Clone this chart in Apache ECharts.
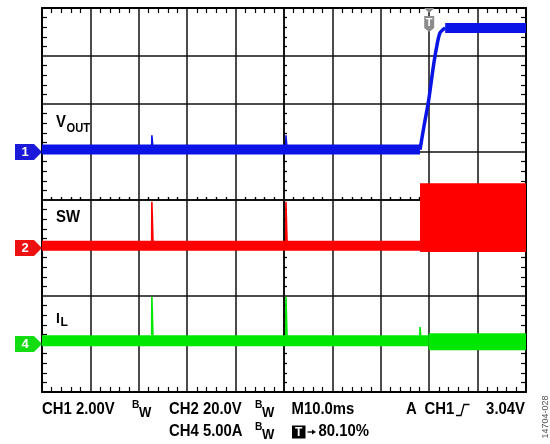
<!DOCTYPE html>
<html>
<head>
<meta charset="utf-8">
<script src="https://cdn.jsdelivr.net/npm/echarts@6/dist/echarts.min.js"></script>
<style>
html, body { margin: 0; padding: 0; background: #fff; }
#scope { width: 550px; height: 444px; }
</style>
</head>
<body>
<div id="scope"></div>
<script>
// time in ms (10 ms/div), values in channel units
const voutLow = [[0, 0.1], [78.1, 0.1]];
const voutRamp = [[78.1, 0.1], [78.9, 1.05], [79.9, 2.17], [80.85, 3.55], [81.55, 4.39], [82.2, 4.95], [83.3, 5.17]];
const voutHigh = [[83.3, 5.17], [100, 5.17]];
const voutSpikes = [[22.7, 0.7], [50.4, 0.7]];

const swLow = [[0, 0.9], [78.1, 0.9]];
const swSpikes = [[22.7, 19.3], [50.4, 19.3]];
const swBurst = [78.1, 100, -1.7, 27]; // start, end, low, high

const ilLow = [[0, 0.33], [79.9, 0.33]];
const ilHigh = [[79.9, 0.24], [100, 0.24]];
const ilSpikes = [[22.7, 4.93], [50.4, 4.93], [78.1, 1.77]];

const triggerT = 80;

const FONT = '"Liberation Sans", Arial, sans-serif';
const ch1 = {color: '#0a14e6', tag: '#1a1ad8', perDiv: 2, zeroDiv: 1, name: '1'};
const ch2 = {color: '#ff0000', tag: '#ee1111', perDiv: 20, zeroDiv: -1, name: '2'};
const ch4 = {color: '#00e800', tag: '#11dd11', perDiv: 5, zeroDiv: -3, name: '4'};

function toDiv(ch, pts) {
    return pts.map(p => [p[0], ch.zeroDiv + p[1] / ch.perDiv]);
}

function trace(ch, pts, width, smooth) {
    return {
        type: 'line',
        data: toDiv(ch, pts),
        symbol: 'none',
        smooth: smooth || false,
        silent: true,
        lineStyle: {color: ch.color, width: width},
        animation: false
    };
}

function spikes(ch, list, base) {
    return list.map(s => trace(ch, [[s[0] - 0.05, base], [s[0], s[1]], [s[0] + 0.25, base]], 1.6));
}

function frameAxis(dim, pos, split) {
    const isX = dim === 'x';
    return {
        type: 'value',
        gridIndex: 0,
        position: pos,
        min: isX ? 0 : -4,
        max: isX ? 100 : 4,
        interval: isX ? 10 : 1,
        axisLine: {show: true, onZero: false, lineStyle: {color: '#000', width: 2}},
        axisTick: {show: false, inside: true},
        minorTick: {show: true, splitNumber: 5, length: 5, lineStyle: {color: '#000', width: 1.2}},
        axisLabel: {show: false},
        splitLine: {show: split, lineStyle: {color: '#111', width: 1.5}}
    };
}

function centerAxis(dim, inside) {
    const isX = dim === 'x';
    return {
        type: 'value',
        gridIndex: 1,
        min: isX ? -5 : -4,
        max: isX ? 5 : 4,
        interval: 1,
        axisLine: {show: true, onZero: true, lineStyle: {color: '#111', width: 1.5}},
        axisTick: {show: false, inside: inside},
        minorTick: {show: true, splitNumber: 5, length: 3, lineStyle: {color: '#000', width: 1.2}},
        axisLabel: {show: false},
        splitLine: {show: false}
    };
}

const chart = echarts.init(document.getElementById('scope'), null, {renderer: 'canvas'});

const swSeries = trace(ch2, swLow, 10);
swSeries.markArea = {
    silent: true,
    itemStyle: {color: ch2.color, opacity: 1},
    data: [[
        {coord: [swBurst[0], ch2.zeroDiv + swBurst[2] / ch2.perDiv]},
        {coord: [swBurst[1], ch2.zeroDiv + swBurst[3] / ch2.perDiv]}
    ]]
};

const series = [
    trace(ch4, ilLow, 11),
    trace(ch4, ilHigh, 17),
    ...spikes(ch4, ilSpikes, 0.33),
    swSeries,
    ...spikes(ch2, swSpikes, 0.9),
    trace(ch1, voutLow, 10),
    trace(ch1, voutRamp, 3.5, 0.25),
    trace(ch1, voutHigh, 10),
    ...spikes(ch1, voutSpikes, 0.1)
];

chart.setOption({
    animation: false,
    backgroundColor: '#fff',
    grid: [
        {left: 42, top: 8, width: 484, height: 384},
        {left: 42, top: 8, width: 484, height: 384}
    ],
    xAxis: [
        frameAxis('x', 'bottom', true),
        frameAxis('x', 'top', false),
        centerAxis('x', true),
        centerAxis('x', false)
    ],
    yAxis: [
        frameAxis('y', 'left', true),
        frameAxis('y', 'right', false),
        centerAxis('y', true),
        centerAxis('y', false)
    ],
    series: series
});

// overlays: channel tags, trigger marker, captions
const px = (t, d) => chart.convertToPixel({gridIndex: 0}, [t, d]);
const g = [];

function text(str, x, y, size, opts) {
    opts = opts || {};
    g.push({
        type: 'text',
        z: 100,
        rotation: opts.rotation || 0,
        scaleX: opts.sx || 1,
        x: x, y: y,
        style: {
            text: str,
            x: 0, y: 0,
            fill: opts.fill || '#000',
            font: (opts.weight || 'bold') + ' ' + size + 'px ' + FONT,
            textAlign: opts.align || 'left',
            textVerticalAlign: 'middle',
            verticalAlign: 'middle',
            align: opts.align || 'left'
        }
    });
}

[ch1, ch2, ch4].forEach(ch => {
    const p = px(0, ch.zeroDiv);
    const x = p[0], y = p[1];
    g.push({
        type: 'polygon', z: 100,
        shape: {points: [[x - 27, y - 8], [x - 8, y - 8], [x, y], [x - 8, y + 8], [x - 27, y + 8]]},
        style: {fill: ch.tag}
    });
    text(ch.name, x - 17, y + 0.5, 13, {fill: '#fff', align: 'center'});
});

const tp = px(triggerT, 4);
g.push({
    type: 'polygon', z: 100,
    shape: {points: [[tp[0] - 5, tp[1]], [tp[0] + 5, tp[1]], [tp[0], tp[1] + 5]]},
    style: {fill: '#8c8c8c'}
});
g.push({
    type: 'polygon', z: 100,
    shape: {points: [[tp[0] - 5, tp[1] + 8], [tp[0] + 5, tp[1] + 8], [tp[0] + 5, tp[1] + 20], [tp[0], tp[1] + 24], [tp[0] - 5, tp[1] + 20]]},
    style: {fill: '#8c8c8c'}
});
text('T', tp[0], tp[1] + 15, 11, {fill: '#fff', align: 'center'});

// trace names
const SX = 0.93;
text('V', 56, 123, 16, {sx: SX});
text('OUT', 66.5, 128.5, 12, {sx: SX});
text('SW', 56, 217.5, 16, {sx: SX});
text('I', 56, 318.5, 15, {sx: SX});
text('L', 60.5, 322, 13, {sx: SX});

// bottom readout
const L1 = 410, L2 = 432;
text('CH1 2.00V', 42, L1, 16, {sx: SX});
text('B', 132, L1 - 5, 11, {sx: SX});
text('W', 139, L1 + 3, 14, {sx: SX});
text('CH2 20.0V', 169, L1, 16, {sx: SX});
text('B', 255, L1 - 5, 11, {sx: SX});
text('W', 262, L1 + 3, 14, {sx: SX});
text('M10.0ms', 291.5, L1, 16, {sx: SX});
text('A', 406, L1, 16, {sx: SX});
text('CH1', 424.5, L1, 16, {sx: SX});
g.push({
    type: 'polyline', z: 100,
    shape: {points: [[456, L1 + 5.5], [461, L1 + 5.5], [464, L1 - 5.5], [469.5, L1 - 5.5]]},
    style: {stroke: '#000', lineWidth: 1.3, fill: null}
});
text('3.04V', 525, L1, 16, {align: 'right', sx: SX});

text('CH4 5.00A', 169, L2, 16, {sx: SX});
text('B', 255, L2 - 5, 11, {sx: SX});
text('W', 262, L2 + 3, 14, {sx: SX});
g.push({type: 'rect', z: 100, shape: {x: 292, y: L2 - 6.5, width: 13.5, height: 13}, style: {fill: '#000'}});
text('T', 298.75, L2 + 0.5, 12, {fill: '#fff', align: 'center'});
g.push({
    type: 'polyline', z: 100,
    shape: {points: [[307.5, L2], [313, L2]]},
    style: {stroke: '#000', lineWidth: 1.3, fill: null}
});
g.push({
    type: 'polygon', z: 100,
    shape: {points: [[312, L2 - 2.5], [316, L2], [312, L2 + 2.5]]},
    style: {fill: '#000'}
});
text('80.10%', 318.5, L2, 16, {sx: SX});

text('14704-028', 546, 417, 9, {rotation: Math.PI / 2, weight: 'normal', fill: '#555', align: 'center'});

chart.setOption({graphic: g});
</script>
</body>
</html>
